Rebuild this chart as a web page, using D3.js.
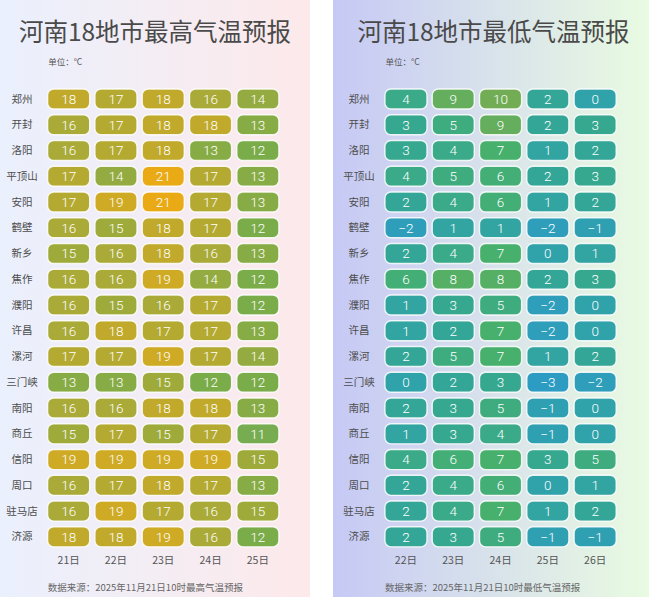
<!DOCTYPE html>
<html>
<head>
<meta charset="utf-8">
<script src="https://cdn.jsdelivr.net/npm/d3@7/dist/d3.min.js"></script>
<style>
  html, body { margin: 0; padding: 0; background: #fff; }
  svg { display: block; font-family: "Noto Sans CJK SC", "Noto Sans", sans-serif; }
</style>
</head>
<body>
<svg id="chart" width="655" height="597"></svg>
<script>
// cities, top to bottom
const cities = ["郑州", "开封", "洛阳", "平顶山", "安阳", "鹤壁", "新乡", "焦作", "濮阳",
  "许昌", "漯河", "三门峡", "南阳", "商丘", "信阳", "周口", "驻马店", "济源"];

const highDays = ["21日", "22日", "23日", "24日", "25日"];
const lowDays = ["22日", "23日", "24日", "25日", "26日"];

// max temperature, one row per city
const highTemps = [
  [18, 17, 18, 16, 14],
  [16, 17, 18, 18, 13],
  [16, 17, 18, 13, 12],
  [17, 14, 21, 17, 13],
  [17, 19, 21, 17, 13],
  [16, 15, 18, 17, 12],
  [15, 16, 18, 16, 13],
  [16, 16, 19, 14, 12],
  [16, 15, 16, 17, 12],
  [16, 18, 17, 17, 13],
  [17, 17, 19, 17, 14],
  [13, 13, 15, 12, 12],
  [16, 16, 18, 18, 13],
  [15, 17, 15, 17, 11],
  [19, 19, 19, 19, 15],
  [16, 17, 18, 17, 13],
  [16, 19, 17, 16, 15],
  [18, 18, 19, 16, 12]
];

// min temperature
const lowTemps = [
  [4, 9, 10, 2, 0],
  [3, 5, 9, 2, 3],
  [3, 4, 7, 1, 2],
  [4, 5, 6, 2, 3],
  [2, 4, 6, 1, 2],
  [-2, 1, 1, -2, -1],
  [2, 4, 7, 0, 1],
  [6, 8, 8, 2, 3],
  [1, 3, 5, -2, 0],
  [1, 2, 7, -2, 0],
  [2, 5, 7, 1, 2],
  [0, 2, 3, -3, -2],
  [2, 3, 5, -1, 0],
  [1, 3, 4, -1, 0],
  [4, 6, 7, 3, 5],
  [2, 4, 6, 0, 1],
  [2, 4, 7, 1, 2],
  [2, 3, 5, -1, -1]
];

const svg = d3.select("#chart");

// one shared colour scale for both panels
const color = d3.scaleLinear()
  .domain([-3, 0, 2, 4, 7, 10, 12, 14, 17, 21])
  .range(["#2d9cc3", "#2fa2aa", "#34a697", "#3aaa88", "#47b06c",
          "#72ad55", "#7bac4a", "#93ab40", "#b4aa32", "#e9aa16"])
  .interpolate(d3.interpolateRgb);

const defs = svg.append("defs");
function gradient(id, from, to) {
  const g = defs.append("linearGradient").attr("id", id)
    .attr("x1", "0%").attr("x2", "100%").attr("y1", "0%").attr("y2", "0%");
  g.append("stop").attr("offset", "0%").attr("stop-color", from);
  g.append("stop").attr("offset", "50%").attr("stop-color", d3.interpolateRgb(from, to)(0.5));
  g.append("stop").attr("offset", "100%").attr("stop-color", to);
}
gradient("bgHigh", "#eaf0fd", "#fde9ea");
gradient("bgLow", "#c6c9f5", "#e9fbe1");

const fmt = v => String(v).replace("-", "\u2212");

function panel(opt) {
  const g = svg.append("g");

  g.append("rect")
    .attr("x", opt.x0).attr("y", 0)
    .attr("width", opt.w).attr("height", 597)
    .attr("fill", `url(#${opt.bg})`);

  g.append("text")
    .attr("x", opt.titleX).attr("y", 41)
    .attr("text-anchor", "middle")
    .attr("font-size", 24.5)
    .attr("fill", "#4a4a4a")
    .text(opt.title);

  g.append("text")
    .attr("x", opt.cellX0 + 0.5).attr("y", 65)
    .attr("font-size", 8.5)
    .attr("fill", "#555")
    .text("单位：°C");

  const x = d3.scaleBand()
    .domain(opt.days)
    .range([opt.cellX0 - 5.3, opt.cellX0 - 5.3 + 241.7])
    .padding(0.11);

  const y = d3.scaleBand()
    .domain(cities)
    .range([83.3, 552.5])
    .padding(0.22);

  // city labels
  g.selectAll("text.city")
    .data(cities)
    .join("text")
    .attr("class", "city")
    .attr("x", opt.labelX)
    .attr("y", d => y(d) + y.bandwidth() / 2)
    .attr("dy", "0.35em")
    .attr("text-anchor", "middle")
    .attr("font-size", 10.5)
    .attr("fill", "#4d4d4d")
    .text(d => d);

  const cells = [];
  opt.values.forEach((row, i) => row.forEach((v, j) => {
    cells.push({ city: cities[i], day: opt.days[j], v });
  }));

  g.selectAll("rect.cell")
    .data(cells)
    .join("rect")
    .attr("class", "cell")
    .attr("x", d => x(d.day))
    .attr("y", d => y(d.city))
    .attr("width", x.bandwidth())
    .attr("height", y.bandwidth())
    .attr("rx", 6)
    .attr("fill", d => color(d.v))
    .attr("stroke", "rgba(255,255,255,0.85)")
    .attr("stroke-width", 1.4);

  g.selectAll("text.val")
    .data(cells)
    .join("text")
    .attr("class", "val")
    .attr("x", d => x(d.day) + x.bandwidth() / 2)
    .attr("y", d => y(d.city) + y.bandwidth() / 2)
    .attr("dy", "0.36em")
    .attr("text-anchor", "middle")
    .attr("font-family", "Roboto, 'Noto Sans', sans-serif")
    .attr("font-weight", 300)
    .attr("font-size", 13.5)
    .attr("fill", "#fff")
    .text(d => fmt(d.v));

  // day axis at the bottom
  const axis = g.append("g")
    .attr("transform", "translate(0,560)")
    .call(d3.axisBottom(x).tickSize(0).tickPadding(0));
  axis.select(".domain").remove();
  axis.selectAll("text")
    .attr("dy", "0.35em")
    .attr("font-family", "'Noto Sans CJK SC', sans-serif")
    .attr("font-size", 10.5)
    .attr("fill", "#555");

  g.append("text")
    .attr("x", opt.cellX0).attr("y", 591)
    .attr("font-size", 9.5)
    .attr("fill", "#666")
    .text(opt.source);
}

panel({
  x0: 0, w: 310, bg: "bgHigh",
  title: "河南18地市最高气温预报", titleX: 155,
  cellX0: 47.7, labelX: 22,
  days: highDays, values: highTemps,
  source: "数据来源：2025年11月21日10时最高气温预报"
});

panel({
  x0: 333, w: 316, bg: "bgLow",
  title: "河南18地市最低气温预报", titleX: 493.5,
  cellX0: 385, labelX: 359,
  days: lowDays, values: lowTemps,
  source: "数据来源：2025年11月21日10时最低气温预报"
});
</script>
</body>
</html>
